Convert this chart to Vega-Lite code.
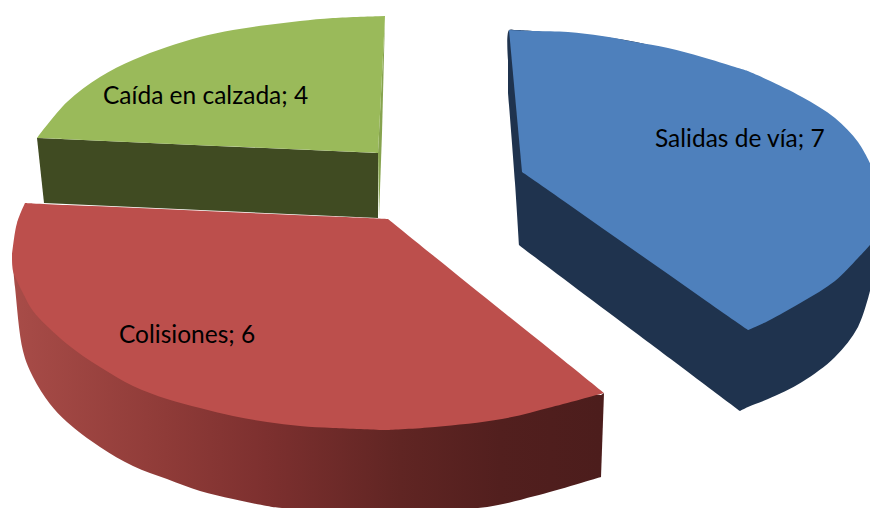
{"$schema":"https://vega.github.io/schema/vega-lite/v6.json","width":870,"height":508,"autosize":{"type":"fit","contains":"padding"},"padding":0,"background":"white","view":{"stroke":null},
"datasets":{"faces":[
{"f":"Salidas side","p":"a","x":508,"y":60,"y2":93},{"f":"Salidas side","p":"a","x":509,"y":30,"y2":105},{"f":"Salidas side","p":"a","x":515,"y":30,"y2":183},{"f":"Salidas side","p":"a","x":519,"y":30,"y2":245},
{"f":"Salidas side","p":"b","x":519,"y":30,"y2":245},{"f":"Salidas side","p":"b","x":532,"y":31,"y2":255},{"f":"Salidas side","p":"b","x":636,"y":42,"y2":333},{"f":"Salidas side","p":"b","x":740,"y":75,"y2":411},
{"f":"Salidas side","p":"c","x":740,"y":75,"y2":411},{"f":"Salidas side","p":"c","x":748,"y":78,"y2":407},{"f":"Salidas side","p":"c","x":768,"y":85,"y2":399},{"f":"Salidas side","p":"c","x":802,"y":100,"y2":382},{"f":"Salidas side","p":"c","x":835,"y":120,"y2":357},{"f":"Salidas side","p":"c","x":858,"y":145,"y2":327},{"f":"Salidas side","p":"c","x":870,"y":165,"y2":291},
{"f":"Salidas top","p":"a","x":509,"y":30,"y2":30},{"f":"Salidas top","p":"a","x":522,"y":30.5,"y2":172},
{"f":"Salidas top","p":"b","x":522,"y":30.5,"y2":172},{"f":"Salidas top","p":"b","x":535,"y":31,"y2":181},{"f":"Salidas top","p":"b","x":568,"y":32,"y2":204},{"f":"Salidas top","p":"b","x":602,"y":36,"y2":228},{"f":"Salidas top","p":"b","x":635,"y":42,"y2":251},{"f":"Salidas top","p":"b","x":668,"y":48,"y2":274},{"f":"Salidas top","p":"b","x":702,"y":57,"y2":298},{"f":"Salidas top","p":"b","x":735,"y":67,"y2":321},{"f":"Salidas top","p":"b","x":748,"y":71,"y2":330},
{"f":"Salidas top","p":"c","x":748,"y":71,"y2":330},{"f":"Salidas top","p":"c","x":768,"y":80,"y2":321},{"f":"Salidas top","p":"c","x":802,"y":97,"y2":302},{"f":"Salidas top","p":"c","x":835,"y":118,"y2":281},{"f":"Salidas top","p":"c","x":858,"y":142,"y2":258},{"f":"Salidas top","p":"c","x":870,"y":163,"y2":245},
{"f":"Caida side","p":"a","x":37,"y":138,"y2":138},{"f":"Caida side","p":"a","x":44,"y":138.3,"y2":203},
{"f":"Caida side","p":"b","x":44,"y":138.3,"y2":203},{"f":"Caida side","p":"b","x":378,"y":153,"y2":218},
{"f":"Caida sliver","p":"a","x":378,"y":153,"y2":153},{"f":"Caida sliver","p":"a","x":379,"y":133,"y2":217},
{"f":"Caida sliver","p":"b","x":379,"y":133,"y2":217},{"f":"Caida sliver","p":"b","x":382,"y":75,"y2":133},
{"f":"Caida sliver","p":"c","x":382,"y":75,"y2":133},{"f":"Caida sliver","p":"c","x":385,"y":16,"y2":16},
{"f":"Caida top","p":"a","x":37,"y":138,"y2":138},{"f":"Caida top","p":"a","x":67,"y":102,"y2":139.3},{"f":"Caida top","p":"a","x":100,"y":77,"y2":140.8},{"f":"Caida top","p":"a","x":133,"y":60,"y2":142.2},{"f":"Caida top","p":"a","x":167,"y":47,"y2":143.7},{"f":"Caida top","p":"a","x":200,"y":37,"y2":145.2},{"f":"Caida top","p":"a","x":233,"y":30,"y2":146.6},{"f":"Caida top","p":"a","x":267,"y":25,"y2":148},{"f":"Caida top","p":"a","x":300,"y":21,"y2":149.5},{"f":"Caida top","p":"a","x":333,"y":18,"y2":151},{"f":"Caida top","p":"a","x":378,"y":16.2,"y2":153},
{"f":"Caida top","p":"b","x":378,"y":16.2,"y2":153},{"f":"Caida top","p":"b","x":385,"y":16,"y2":16},
{"f":"Colisiones end","p":"a","x":601,"y":395,"y2":477},{"f":"Colisiones end","p":"a","x":604,"y":393,"y2":393},
{"f":"Colisiones top","p":"a","x":12,"y":254,"y2":256},{"f":"Colisiones top","p":"a","x":13,"y":246,"y2":271},{"f":"Colisiones top","p":"a","x":17,"y":223,"y2":281},{"f":"Colisiones top","p":"a","x":25,"y":203,"y2":297},
{"f":"Colisiones top","p":"b","x":25,"y":203,"y2":297},{"f":"Colisiones top","p":"b","x":33,"y":203.4,"y2":311},{"f":"Colisiones top","p":"b","x":67,"y":205,"y2":344},{"f":"Colisiones top","p":"b","x":100,"y":206.3,"y2":367},{"f":"Colisiones top","p":"b","x":133,"y":207.8,"y2":386},{"f":"Colisiones top","p":"b","x":167,"y":209.3,"y2":399},{"f":"Colisiones top","p":"b","x":200,"y":210.7,"y2":408},{"f":"Colisiones top","p":"b","x":233,"y":212.2,"y2":416},{"f":"Colisiones top","p":"b","x":267,"y":213.7,"y2":422},{"f":"Colisiones top","p":"b","x":300,"y":215.2,"y2":426},{"f":"Colisiones top","p":"b","x":333,"y":216.6,"y2":428},{"f":"Colisiones top","p":"b","x":383,"y":218.8,"y2":430},{"f":"Colisiones top","p":"b","x":388,"y":219,"y2":430},
{"f":"Colisiones top","p":"c","x":388,"y":219,"y2":430},{"f":"Colisiones top","p":"c","x":435,"y":257,"y2":427},{"f":"Colisiones top","p":"c","x":502,"y":311,"y2":419},{"f":"Colisiones top","p":"c","x":552,"y":351,"y2":407},{"f":"Colisiones top","p":"c","x":604,"y":393,"y2":393},
{"f":"Colisiones side","p":"a","x":12,"y":254,"y2":254},{"f":"Colisiones side","p":"a","x":15,"y":250,"y2":287},{"f":"Colisiones side","p":"a","x":23,"y":230,"y2":351},{"f":"Colisiones side","p":"a","x":33,"y":220,"y2":377},{"f":"Colisiones side","p":"a","x":50,"y":220,"y2":404},{"f":"Colisiones side","p":"a","x":67,"y":220,"y2":422},{"f":"Colisiones side","p":"a","x":100,"y":220,"y2":447},{"f":"Colisiones side","p":"a","x":133,"y":220,"y2":466},{"f":"Colisiones side","p":"a","x":167,"y":220,"y2":479},{"f":"Colisiones side","p":"a","x":200,"y":220,"y2":491},{"f":"Colisiones side","p":"a","x":233,"y":220,"y2":499},{"f":"Colisiones side","p":"a","x":267,"y":220,"y2":506},{"f":"Colisiones side","p":"a","x":282,"y":225,"y2":508},{"f":"Colisiones side","p":"a","x":478,"y":340,"y2":508},{"f":"Colisiones side","p":"a","x":535,"y":380,"y2":496},{"f":"Colisiones side","p":"a","x":601,"y":395,"y2":477}
],"labels":[
{"label":"Caída en calzada; 4","x":103,"y":104},{"label":"Salidas de vía; 7","x":655,"y":147},{"label":"Colisiones; 6","x":119,"y":343}
]},
"layer":[
{"data":{"name":"faces"},"transform":[{"filter":"indexof(['Salidas side','Salidas top','Caida side','Caida sliver','Caida top','Colisiones end'],datum.f)>=0"}],
"mark":{"type":"area","interpolate":"catmull-rom","clip":true},
"encoding":{"x":{"field":"x","type":"quantitative","scale":{"domain":[0,870],"nice":false,"zero":false},"axis":null},"y":{"field":"y","type":"quantitative","stack":null,"scale":{"domain":[508,0],"nice":false,"zero":false},"axis":null},"y2":{"field":"y2"},"detail":{"field":"p"},
"color":{"field":"f","type":"nominal","legend":null,"scale":{"domain":["Salidas side","Salidas top","Caida side","Caida sliver","Caida top","Colisiones end"],"range":["#1f334e","#4e80bc","#404b22","#86a34e","#9aba5a","#4c1d1c"]}}}},
{"data":{"name":"faces"},"transform":[{"filter":"datum.f==='Colisiones side'"}],
"mark":{"type":"area","interpolate":"catmull-rom","clip":true,"color":{"gradient":"linear","x1":0,"x2":1,"y1":0,"y2":0,"stops":[{"offset":0,"color":"#a84c48"},{"offset":0.26,"color":"#8f3b38"},{"offset":0.43,"color":"#7d302f"},{"offset":0.66,"color":"#602523"},{"offset":0.83,"color":"#521f1e"},{"offset":1,"color":"#4c1d1c"}]}},
"encoding":{"x":{"field":"x","type":"quantitative","scale":{"domain":[0,870],"nice":false,"zero":false},"axis":null},"y":{"field":"y","type":"quantitative","stack":null,"scale":{"domain":[508,0],"nice":false,"zero":false},"axis":null},"y2":{"field":"y2"}}},
{"data":{"name":"faces"},"transform":[{"filter":"datum.f==='Colisiones top'"}],
"mark":{"type":"area","interpolate":"catmull-rom","clip":true,"color":"#bc4f4c"},
"encoding":{"x":{"field":"x","type":"quantitative","scale":{"domain":[0,870],"nice":false,"zero":false},"axis":null},"y":{"field":"y","type":"quantitative","stack":null,"scale":{"domain":[508,0],"nice":false,"zero":false},"axis":null},"y2":{"field":"y2"},"detail":{"field":"p"}}},
{"data":{"name":"labels"},
"mark":{"type":"text","align":"left","baseline":"alphabetic","font":"Lato","fontSize":24.5,"color":"#000000"},
"encoding":{"x":{"field":"x","type":"quantitative","scale":{"domain":[0,870],"nice":false,"zero":false},"axis":null},"y":{"field":"y","type":"quantitative","scale":{"domain":[508,0],"nice":false,"zero":false},"axis":null},"text":{"field":"label"}}}
]}
